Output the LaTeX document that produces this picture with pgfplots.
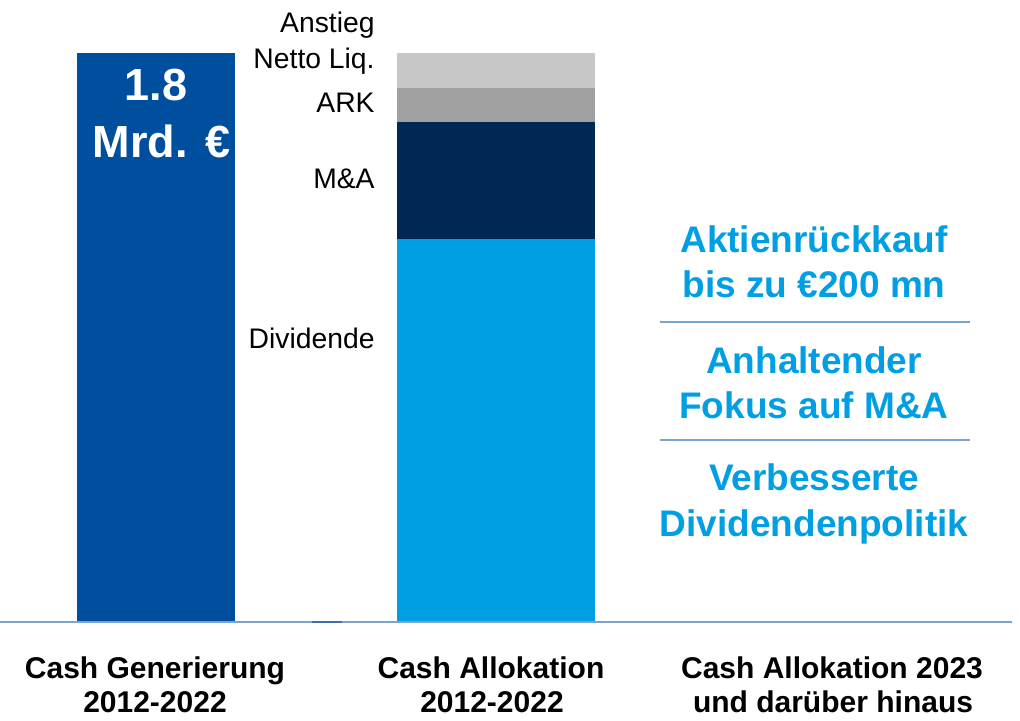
\documentclass[border=0pt]{standalone}
\usepackage{fontspec}
\setmainfont{Liberation Sans}
\usepackage{pgfplots}
\pgfplotsset{compat=1.18}

\definecolor{genblue}{HTML}{004F9F}
\definecolor{divblue}{HTML}{009FE3}
\definecolor{mnavy}{HTML}{002855}
\definecolor{arkgray}{HTML}{A0A0A0}
\definecolor{liqgray}{HTML}{C7C7C7}
\definecolor{linecol}{HTML}{7BA3D0}
\definecolor{stubcol}{HTML}{3A70B0}

\begin{document}
\begin{tikzpicture}
\useasboundingbox (0,0) rectangle (510pt,360pt);
\begin{axis}[
  at={(0pt,49.5pt)}, anchor=origin,
  x=0.5pt, y=157.8pt,
  xmin=0, xmax=1020, ymin=-0.3137, ymax=1.9677,
  hide axis, clip=false,
  ybar stacked,
]
% values in Mrd. EUR; bar 1 = generation, bar 2 = allocation
\addplot[fill=genblue, draw=none, bar width=79pt] coordinates {(156,1.80) (496,0)};
\addplot[fill=divblue, draw=none, bar width=99pt] coordinates {(156,0) (496,1.21)};
\addplot[fill=mnavy, draw=none, bar width=99pt] coordinates {(156,0) (496,0.37)};
\addplot[fill=arkgray, draw=none, bar width=99pt] coordinates {(156,0) (496,0.11)};
\addplot[fill=liqgray, draw=none, bar width=99pt] coordinates {(156,0) (496,0.11)};
\end{axis}

\begin{scope}[x=0.5pt, y=-0.5pt, shift={(0pt,360pt)}]
  % baseline and separators
  \draw[linecol, line width=1.2pt] (0,622) -- (1012,622);
  \draw[stubcol, line width=1.2pt] (312,622) -- (342,622);
  \draw[linecol, line width=1pt] (660,322) -- (970,322);
  \draw[linecol, line width=1pt] (660,440) -- (970,440);

  % segment labels
  \tikzset{seg/.style={anchor=base east, inner sep=0pt, font=\fontsize{14.15}{17}\selectfont}}
  \node[seg] at (375,32) {Anstieg};
  \node[seg] at (375,68) {Netto Liq.};
  \node[seg] at (375,112) {ARK};
  \node[seg] at (375,188) {M\&A};
  \node[seg] at (375,348) {Dividende};

  % value on bar 1
  \tikzset{val/.style={anchor=base, inner sep=0pt, text=white, font=\bfseries\fontsize{22.5}{26}\selectfont}}
  \node[val] at (156,100) {1.8};
  \node[val] at (162,157) {Mrd.\hspace{0.4em}€};

  % category labels
  \tikzset{cat/.style={anchor=base, inner sep=0pt, font=\bfseries\fontsize{15}{18}\selectfont}}
  \node[cat] at (155,678) {Cash Generierung};
  \node[cat] at (155,712) {2012-2022};
  \node[cat] at (491,678) {Cash Allokation};
  \node[cat] at (492,712) {2012-2022};
  \node[cat] at (832,678) {Cash Allokation 2023};
  \node[cat] at (833,712) {und darüber hinaus};

  % outlook text
  \tikzset{outl/.style={anchor=base, inner sep=0pt, text=divblue, font=\bfseries\fontsize{18.5}{22}\selectfont}}
  \node[outl] at (814,252) {Aktienrückkauf};
  \node[outl] at (814,297) {bis zu €200 mn};
  \node[outl] at (814,373) {Anhaltender};
  \node[outl] at (814,418) {Fokus auf M\&A};
  \node[outl] at (814,490) {Verbesserte};
  \node[outl] at (814,536) {Dividendenpolitik};
\end{scope}
\end{tikzpicture}
\end{document}
